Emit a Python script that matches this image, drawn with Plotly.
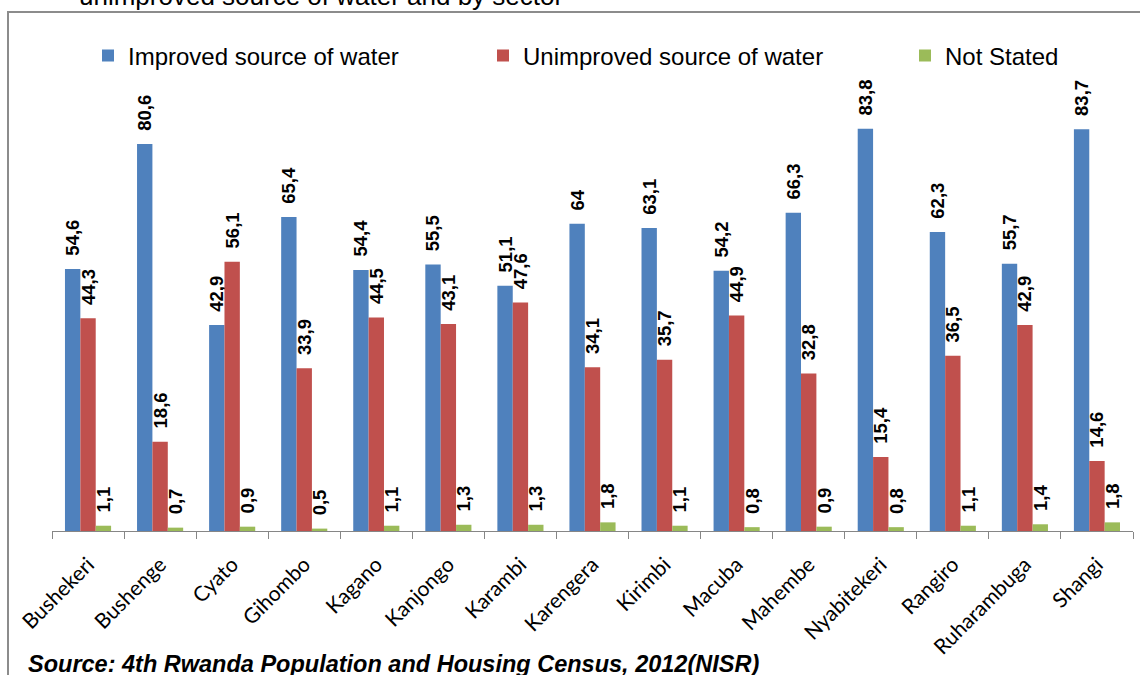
import plotly.graph_objects as go

sectors = ["Bushekeri", "Bushenge", "Cyato", "Gihombo", "Kagano", "Kanjongo", "Karambi",
           "Karengera", "Kirimbi", "Macuba", "Mahembe", "Nyabitekeri", "Rangiro",
           "Ruharambuga", "Shangi"]
improved = [54.6, 80.6, 42.9, 65.4, 54.4, 55.5, 51.1, 64, 63.1, 54.2, 66.3, 83.8, 62.3, 55.7, 83.7]
unimproved = [44.3, 18.6, 56.1, 33.9, 44.5, 43.1, 47.6, 34.1, 35.7, 44.9, 32.8, 15.4, 36.5, 42.9, 14.6]
not_stated = [1.1, 0.7, 0.9, 0.5, 1.1, 1.3, 1.3, 1.8, 1.1, 0.8, 0.9, 0.8, 1.1, 1.4, 1.8]

series_names = ["Improved source of water", "Unimproved source of water", "Not Stated"]
series_values = [improved, unimproved, not_stated]
colors = ["#4F81BD", "#C0504D", "#9BBB59"]
legend_ids = ["legend", "legend2", "legend3"]


def fmt(v):
    return "\u00a0\u00a0" + f"{v:g}".replace(".", ",")


fig = go.Figure()
for name, vals, col, lid in zip(series_names, series_values, colors, legend_ids):
    fig.add_trace(go.Bar(
        x=sectors, y=vals, name=name, legend=lid,
        marker=dict(color=col, line=dict(width=0)),
        text=[fmt(v) for v in vals], textposition="outside", textangle=-90,
        constraintext="none", cliponaxis=False,
        textfont=dict(family="Liberation Sans, Arial", size=18.5, color="black", weight="bold"),
    ))

W, H = 1140, 675
L, R, T, B = 52, 7, 99, 144
pw, ph = W - L - R, H - T - B


def px(x):
    return (x - L) / pw


def py(y):
    return (H - B - y) / ph


legend_font = dict(family="Liberation Sans, Arial", size=24, color="black")
common_leg = dict(orientation="h", xref="container", yref="container", yanchor="middle",
                  font=legend_font, bgcolor="rgba(0,0,0,0)", itemclick=False)

fig.update_layout(
    width=W, height=H,
    margin=dict(l=L, r=R, t=T, b=B),
    paper_bgcolor="white", plot_bgcolor="white",
    barmode="group", bargap=0.36, bargroupgap=0,
    showlegend=True,
    legend=dict(x=88 / W, y=1 - 56 / H, **common_leg),
    legend2=dict(x=483 / W, y=1 - 56 / H, **common_leg),
    legend3=dict(x=905 / W, y=1 - 56 / H, **common_leg),
    xaxis=dict(showline=True, linecolor="#868686", linewidth=1, ticks="outside",
               tickson="boundaries", ticklen=7, tickcolor="#868686", tickangle=-45,
               ticklabelstandoff=12,
               tickfont=dict(family="Lato", size=21, color="black"), showgrid=False),
    yaxis=dict(visible=False, range=[0, 90], showgrid=False),
    font=dict(family="Liberation Sans, Arial"),
)

fig.add_shape(type="rect", xref="paper", yref="paper",
              x0=px(8), x1=px(1160), y0=py(700), y1=py(12),
              line=dict(color="#8C8C8C", width=2), fillcolor="rgba(0,0,0,0)", layer="below")

fig.add_annotation(text="unimproved source of water and by sector", xref="paper", yref="paper",
                   x=px(77), y=py(-4), xanchor="left", yanchor="middle", showarrow=False,
                   font=dict(family="Liberation Sans, Arial", size=26, color="black"))

fig.add_annotation(text="<b><i>Source: 4th Rwanda Population and Housing Census, 2012(NISR)</i></b>",
                   xref="paper", yref="paper", x=px(26), y=py(664), xanchor="left", yanchor="middle",
                   showarrow=False,
                   font=dict(family="Liberation Sans, Arial", size=23.5, color="black"))

fig.write_html("out.html", config={"displayModeBar": False},
               post_script="document.body.style.margin='0';")
